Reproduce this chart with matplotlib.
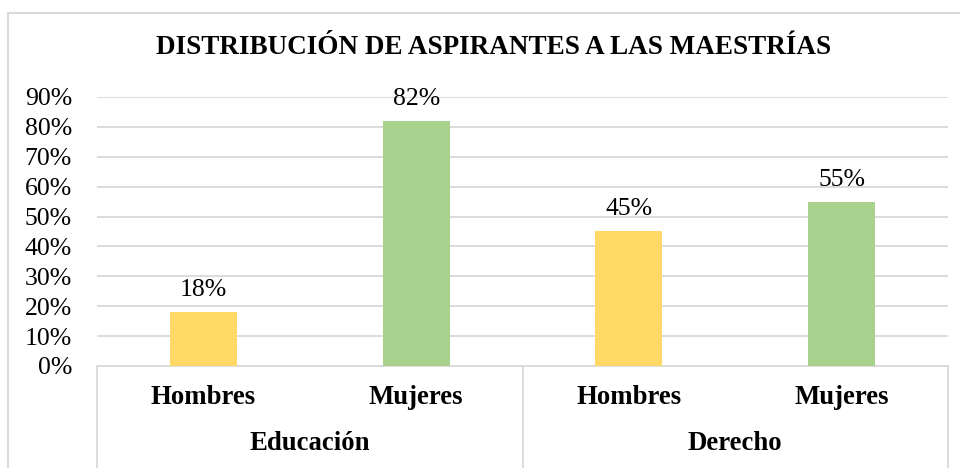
import matplotlib
matplotlib.use("Agg")
import matplotlib.pyplot as plt
from matplotlib.lines import Line2D
from matplotlib.patches import Rectangle
from matplotlib.ticker import PercentFormatter

title = "DISTRIBUCIÓN DE ASPIRANTES A LAS MAESTRÍAS"
groups = ["Educación", "Derecho"]
subcats = ["Hombres", "Mujeres", "Hombres", "Mujeres"]
values = [0.18, 0.82, 0.45, 0.55]
colors = ["#FFD966", "#A9D18E", "#FFD966", "#A9D18E"]
yticks = [0, 0.1, 0.2, 0.3, 0.4, 0.5, 0.6, 0.7, 0.8, 0.9]

plt.rcParams['font.family'] = ['Liberation Serif', 'DejaVu Serif']

W, H = 960, 468
fig = plt.figure(figsize=(W / 100, H / 100), dpi=100)
fig.patch.set_facecolor("white")

# outer chart border
fig.add_artist(Rectangle((8 / W, -0.1), 1.2, (H - 13) / H + 0.1, transform=fig.transFigure,
                         fill=False, edgecolor="#D9D9D9", linewidth=1.5))

left, right, bottom, top = 97, 948, 366, 97
ax = fig.add_axes([left / W, (H - bottom) / H, (right - left) / W, (bottom - top) / H])

x = list(range(len(values)))
ax.bar(x, values, width=0.315, color=colors, zorder=3)
ax.set_xlim(-0.5, len(values) - 0.5)
ax.set_ylim(0, 0.9)
ax.set_yticks(yticks)
ax.yaxis.set_major_formatter(PercentFormatter(1.0, decimals=0))
ax.tick_params(axis="y", length=0, labelsize=18.5, pad=18)
ax.tick_params(axis="x", length=0, labelbottom=False)
ax.grid(axis="y", color="#D9D9D9", linewidth=1.3, zorder=0)
for s in ["top", "right", "left"]:
    ax.spines[s].set_visible(False)
ax.spines["bottom"].set_color("#D9D9D9")
ax.spines["bottom"].set_linewidth(1.3)
ax.spines["bottom"].set_zorder(1)

for xi, v in zip(x, values):
    ax.annotate(f"{v*100:.0f}%", (xi, v), xytext=(0, 8), textcoords="offset points",
                ha="center", va="bottom", fontsize=18.5)

trans = ax.get_xaxis_transform()
ax_h = bottom - top
for xi, lab in zip(x, subcats):
    ax.text(xi, -(398 - bottom) / ax_h, lab, transform=trans, ha="center", va="center",
            fontsize=19.3, fontweight="bold", clip_on=False)
for gi, g in enumerate(groups):
    ax.text(gi * 2 + 0.5, -(444 - bottom) / ax_h, g, transform=trans, ha="center", va="center",
            fontsize=19.3, fontweight="bold", clip_on=False)
for sx in [-0.5, 1.5, 3.5]:
    ax.add_line(Line2D([sx, sx], [0, -(470 - bottom) / ax_h], transform=trans,
                       color="#D9D9D9", linewidth=1.3, clip_on=False))

fig.text(0.5 * (157 + 830) / W, 1 - 54 / H, title, ha="center", va="baseline",
         fontsize=19.5, fontweight="bold")

fig.savefig("out.png", dpi=100)
